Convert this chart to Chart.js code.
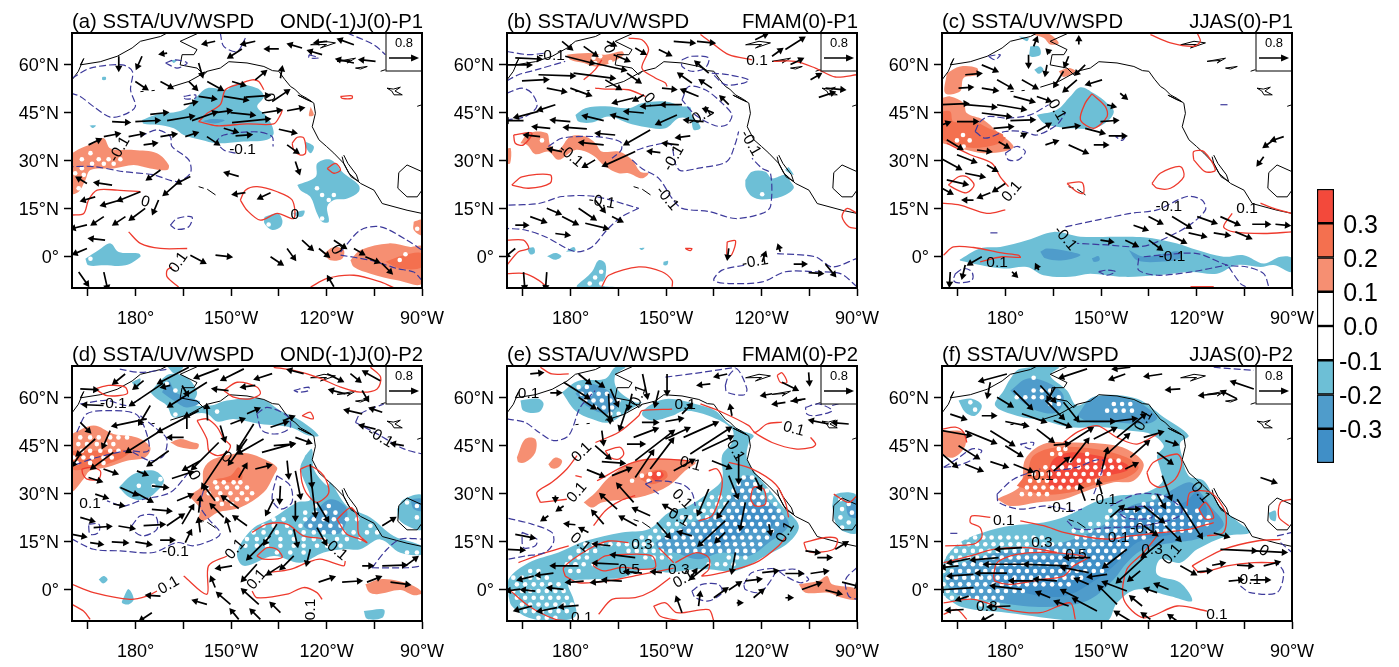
<!DOCTYPE html>
<html>
<head>
<meta charset="utf-8">
<title>SSTA/UV/WSPD</title>
<script src="https://cdn.jsdelivr.net/npm/chart.js@4"></script>
<style>
  html, body { margin: 0; padding: 0; background: #fff; }
  body { width: 1399px; height: 667px; position: relative; overflow: hidden; }
  .box { position: absolute; }
</style>
</head>
<body>
<script>
// axis labels
const xTicks = [165, 180, 195, 210, 225, 240, 255, 270];
const xTickLabels = ['', '180°', '', '150°W', '', '120°W', '', '90°W'];
const yTicks = [0, 15, 30, 45, 60];
const yTickLabels = ['0°', '15°N', '30°N', '45°N', '60°N'];

// colour bar
const barEdges = [-0.4, -0.3, -0.2, -0.1, 0, 0.1, 0.2, 0.3, 0.4];
const barTicks = [-0.3, -0.2, -0.1, 0, 0.1, 0.2, 0.3];
const barTickLabels = ['-0.3', '-0.2', '-0.1', '0.0', '0.1', '0.2', '0.3'];
const barColors = ['#408fc7', '#4f9ccb', '#6dbfd6', '#ffffff', '#ffffff', '#f68f72', '#f4704f', '#f3493b'];

// coast lines, lon (deg E) / lat pairs
const coastLines = [
  [202.5,58,206.6,59,209.3,61,215,60.6,220.3,59.5,223,58.2,225,58,226.8,55.5,228.7,53.2,230,52.4,231.8,50.6,234,49.4,236,48,236.5,44.8,235.5,40.6,237.6,36.5,240,34.4,242.3,32.3,245.4,29.1,247,26,250.7,22.8,254.9,20.7,257.5,16.5,261.2,15.5,265.3,14.4,270,13.4],
  [202.5,58,196.7,54.8,190.9,53],
  [186,52,185,51.9],[182.5,51.7,181.5,51.6],
  [199.8,70,194,67.4,199.3,64.8,198.3,63.2,194.6,63.2,194,60,199.3,59,201.4,56.9,202.5,58],
  [160,55.3,162,58,163.7,62,162.6,60,168.9,61,174.2,62.7,178.9,65.3,181.5,67.4,187.8,68.9,189.9,70],
  [270,26.5,265.3,28.6,262.7,26.2,262.4,21.3,265.3,18.6,268.5,18.6,270,20.7],
  [245.4,31.7,246.7,29.1,249.4,25.5,250.1,23.4,247.7,24.9,245.4,29.1,244.9,31.2],
  [231,50.5,233,49.6,235.4,48.4,233.5,49.2,231,50.5],
  [235,66.3,239.2,67.4,242.8,66.9,238.1,65.3,240,66.4,235,66.3],
  [243.3,61.1,249.1,62.1,246.5,60.6,247.5,61.4,243.3,61.1],
  [249.1,59,252.8,59.5,250.7,58.7,249.1,59],
  [257,58,258.5,58.5],
  [259,52.7,261,52.4,263.2,53,261.5,51.8,263.8,50.6,261.2,50.6,260.5,51.8,259,52.7],
  [268.5,47,270,47.5],
  [199.8,21.8,201.4,21.3],[202.5,21,205.1,19.2]
];

// panel (a)
const aW1 = [
  [160,32.3,162.6,33.8,166.8,35.4,170,37,172.1,33.8,179.4,33.3,186.7,32.3,190.4,28.6,189.9,27,184.6,27.5,179.4,28.6,173.1,27.5,165.8,27,164.2,23.8,162.1,20.2,160,19.7],
  [247.5,-1.3,250.7,1.9,259.6,4,266.4,2.9,270,2.9,270,-8.6,262.2,-7.6,253.8,-5.5,248.6,-3.4],
  [239.1,.8,242.3,2.9,245.4,1.9,244.9,-.8,241.2,-1.3],
  [267.4,10.8,270,11.3,270,6.6,267.4,8.2],
  [235,46.9,236,44.3,234.5,44]
];
const aW2 = [[258.5,-1.8,264.3,.3,270,.8,270,-3.4,263.2,-3.9]];
const aC1 = [
  [182,42.7,186.2,44.3,195.1,45.9,199.3,50.1,202.5,52.7,208.7,52.2,210.8,53.8,218.2,52.7,220.3,50.1,218.2,46.9,221.3,43.8,223.4,38.6,221.3,36.5,212.9,35.9,205.6,35.4,200.4,36.5,195.1,38,192,40.1,186.7,41.2,182.5,41.5],
  [230.8,22.3,236.6,24.9,237.1,29.1,241.3,30.2,245.4,26,250.1,22.3,250.1,20.2,246.5,18.1,242.3,17.6,240.2,15.5,240.7,10.8,238.6,10.8,237,13.4,234.9,18.6,231.8,20.7],
  [233.4,36,236,34.4,235,32.3,233.4,34.4],
  [220.5,12.3,224.7,13.4,226.1,11.3,225.6,9.2,222.9,8.2,220.5,10.2],
  [229.5,13.5,233,14.3,232.5,12.5,230.5,12.5],
  [164.2,-.8,168.4,1.9,172.1,4,174.7,1.3,181,.8,181.5,-.2,176.8,-2.9,170,-2.9,165.2,-2.9],
  [169.5,56.2,170.6,56.2,170.6,55.3,169.5,55.3],[165.5,41,167.5,41,166.5,40.2],[191,61.5,193,61.5,192,60.6]
];
const aC2 = [[201,42.3,204,43,208,42.6,205,41.6]];
const aRed = [
  [199.8,42.2,202.5,44.8,206.6,47.5,208.2,52.2,211.9,53.8,216.6,55.3,218.7,54.8,220.3,52.2],
  [199.8,42.2,205.6,40.9,215,41.5,223.4,41.5,225.5,44.3,226.1,45.9],
  [160,12.9,163.7,13.4,165.2,17.6,167.9,20.7,174.2,20.7,181.5,20.2],
  [177.8,7.6,181.5,4,187.8,2.4,196.2,2.4],
  [193.5,-9.7,189.9,-6.5,189.9,-4.4,191.4,-3.4],
  [235,-9.7,240.2,-7,248.6,-6,257,-8.1,261.7,-10.2]
];
const aRedLoop = [
  [229.2,35.4,230.8,37.3,232.9,37,233.4,32.3,231.8,31.7,229.7,33.3],
  [240.2,27.5,242.8,29.1,244.4,27,242.3,26],
  [244.4,50.1,248,50.3,248,49.5,244.9,49.5],
  [212.9,17.6,214.5,20.7,218.2,21.8,224.5,20.2,229.2,17.6,229.7,11.8,224.5,13.4,219.2,11.3,215,14.4]
];
const aBlue = [
  [160,55.8,165.8,59,175.8,60,179,57.9,178.4,52.2,179.9,46.9,176.2,44.3,172,43.6,166.8,46.9,162.6,50.1,160,51],
  [181.5,37.5,186.7,39.6,190.9,37.5,191.4,34.4,196.7,30.2,197.2,26,193,23.4,185.7,25.5,176.2,26.5,166.8,28.1,160,28.1],
  [211.4,32.3,207.7,33.3,205.6,35.9,207.7,38,218.2,39,222.9,37.5,223.2,34.4],
  [206.6,70,207.7,65.8,211.9,64.2,214.5,68.4],
  [246.5,70,254.9,66.3,258.5,63.2],
  [244.4,1.3,250.7,8.2,257,9.2,265.3,5,270,1.9],
  [244.4,.3,253.8,-1.3,262.2,-3.9,267.4,-5,270,-7.6]
];
const aBlueLoop = [
  [190.9,9.7,193,11.8,197.7,12.3,196.7,9.2,193,8.4],
  [189.4,60.6,192.5,61.6,196.2,60.6,193,59],
  [195.1,50.1,198.8,50.6,198.8,49.6,195.6,49.3],
  [234.5,63.2,237.5,62.2,234.5,62.2]
];
const aDots = [[32.3,165.8],[30.4,168.4,163.1,171.5,175.2],[29,170,166.3,173.1],[27.6,163.1],[26,161],[25.5,163.7],[21.3,162.1,237],[19.2,238.6,242.3],[17.6,240.7],[11.8,238.6],[9.9,221.8],[.6,264.8],[-1.2,263],[8.6,268.5],[-.8,165.8]];
const aWind = [
  [205,67.4,-.27,-.06],[217.6,67.4,-.31,-.07],[213.4,65,-.31,-.2],[225,65,-.3,0],[232.3,65.3,-.31,.09],[240.2,67.4,-.27,-.03],[248.6,66.3,-.36,.13],[238.6,63.2,-.31,.09],[248.6,60.6,-.4,.09],[255.4,61.1,-.36,.04],
  [174.7,62.7,0,-.31],[182,62.7,-.12,-.27],[189.9,63.7,-.13,-.02],[199.8,60.6,.09,-.31],[179.9,54.8,.27,-.18],[187.8,54.8,.27,-.15],[196.7,54.8,.18,-.18],[202.5,54.8,.36,-.2],[210.3,54.8,.29,-.09],[217.6,55.3,.24,.2],[225.5,55.8,.04,.24],
  [199.8,50.1,.4,-.06],[207.7,50.1,.58,-.09],[214.5,49.9,.58,.04],[222.9,48.5,.4,.27],[195.1,47.5,.29,.06],[184.6,44.5,.4,.04],[189.9,42.5,.65,.11],[197.7,42.5,.6,.21],[205.1,45,.36,.05],[209.8,45,.58,-.06],[219.7,44.9,.45,.07],[227.6,45.6,.38,.07],[210.3,41.9,.94,.09],[179.9,42.2,.58,.03],[172.6,42.2,.4,-.02],
  [207.7,40.1,.31,-.09],[225,39.8,.4,-.09],[195.6,37.5,.27,.09],[187.8,37.5,.36,.06],[177.8,37.5,.36,.07],[170,37.5,.36,.07],[165.2,34.9,.27,.13],[182.5,34.9,.29,.04],[211.4,37.7,.36,.03],[202.4,37.5,.27,-.18],[227.6,34.9,.25,-.18],[230.2,29.7,.09,-.27],[212.4,25,-.31,.09],
  [164.7,22.8,-.22,.13],[172.6,22.3,-.4,.06],[187.8,27,-.31,-.22],[197.2,25,-.31,-.16],[193,22.8,-.31,-.27],[214.5,19.9,-.27,-.04],[222.4,19.9,-.27,-.13],[181.5,20.2,-.54,-.22],[175.2,17.6,-.45,-.13],[167.3,18.6,-.31,-.09],[183,15,-.36,-.27],[187.2,17.6,-.13,-.31],[176.8,12.4,-.27,-.18],[170,12.4,-.27,-.18],[164.7,9.8,-.36,-.09],[170.4,5,-.36,.04],[164.7,2.4,-.31,-.13],
  [197.2,.3,.34,-.18],[205.1,.3,.36,-.04],[222.4,-.2,.27,-.18],[227.6,2.4,.18,-.25],[232.3,5,.24,-.22],[237.6,2.4,.22,-.18],[242.3,5,.27,-.18],[248.6,2.4,.22,-.13],[252.2,-.2,.31,-.13],[257.4,-2.3,.22,-.22],[162.1,-5,.22,-.31],[170,-5,.09,-.4],[242.3,-9.6,-.13,.22]
];
const aLabels = [['-0.1',213.6,33.3,0],['0.1',193.5,-2,-55],['-0.1',175,33.5,-60],['0',221.8,49.8,80],['0',230,13,0],['0',183,17,15],['0',243,2,60]];

// panel (b)
const bW1 = [
  [178.8,63.2,185.6,63.7,190.9,63.2,196.1,64.3,196.7,63.2,192.5,60.6,187.8,59.5,184.1,60.6,179.9,61.6],
  [164.2,35.4,166.8,38.6,172.5,38.6,173.6,34.9,176.2,33.3,179.9,37.5,184.6,37.5,187.8,35.4,189.8,32.8,195.1,32.8,199.3,30.2,201.9,26.5,204.5,26,202.4,24.4,198.2,26,195.1,26,190.9,28.1,186.7,31.8,181.5,33.3,176.2,30.2,173,32.8,168.9,32,166.3,34.9],
  [160,33.8,161.2,33.8,161,29.1,160,29.1]
];
const bC1 = [
  [181.5,44.3,184.6,46.4,190.9,47,198.2,46.4,202.4,48,209.8,48.5,215,47,217.6,46.7,218.1,44.3,220.2,41.7,220.8,40.1,218.7,39.6,217.6,42.8,214,43.3,209.8,40.1,202.4,40.7,198.2,41.7,191.9,43.8,186.7,41.9,182.5,42.2],
  [234.9,23.9,237,26.5,241.2,26.5,243.3,24.4,247.5,25.5,249.1,23.4,250.1,21.3,246.4,18.7,240.2,17.8,237,18.7,235.1,21.3],
  [248.5,28,250.1,25.5,247.5,27],
  [182,-9.1,186.7,-4.9,188.8,-1.3,190.9,-2.3,190.9,-6.5,189.8,-9.1,194,-9.6,182,-10],
  [172.6,0,175.2,1,177.1,0,175.2,-1.1],[178.5,1.4,181,2.9,181.5,1.7],[166.3,2.4,168.4,2.7,168.7,1,167.3,.6],[209.2,-1.8,210.6,-1.5,210.3,-2.8,209.2,-2.8],[201.5,2.5,203.2,2.6,202.4,1.9]
];
const bRed = [
  [198.2,68.4,202.4,67.9,204.5,64.8,202.4,59,206.6,55.9,209.8,54.3,210.3,53.2],
  [184.1,55.3,187.7,58.5,189.8,61.6],
  [187.7,52.7,190.9,52.4,198.2,52.2,203.5,50.1],
  [220.8,69.5,224.4,66.9,229.7,63.2,237,61.6],
  [243.8,61.1,250.6,61.1,256.9,59,263.2,56.2,270,56.9],
  [270,13.4,266.9,15,265.3,12.4,267.4,9.2,270,8.7],
  [160,5,165.2,5,166.8,2.4,163.6,1.4,160,-2.8],
  [160,-5.5,165.7,-5.5,170,-7.6,172.5,-9.6],
  [189.8,-9.6,192,-6,201.4,-3.4,208.7,-4.9,211.9,-7.6,211.9,-9.6]
];
const bRedLoop = [
  [162.1,38,167.8,38.6,165.2,34.9,162.6,35.4],
  [161.5,22.3,164.7,24.9,173.6,25.5,173.6,22.9,166.8,21.3],
  [229.2,4.5,231.8,4.8,230.7,.6,229.2,-.2],
  [216,2.4,218.1,2.4,217.6,1.7]
];
const bBlue = [
  [160,64.2,166.8,63.2,172,63.7],
  [160,55,163.6,56.9,169.4,58.5,178.3,61.1],
  [160,51.1,164.7,52.7,167.8,51.1,169.4,47,165.8,43.8,160.5,42.8],
  [160.5,16,170,16.5,177.3,18.7,187.7,18.7,201.4,15],
  [201.4,15,196.1,12.4,191.4,8.2,186.7,2.9,181.5,1.4,172,6.1,165.7,8.2,160,8.7],
  [173,34.4,177.3,37,187.7,37.5,195.6,35.9,195.9,33.3,193,30.7],
  [199.3,30.2,202.4,27.5,207.7,24.4,211.9,18.1,215,15,223.4,14,231.8,11.8,240.2,13.4,242.8,15.5,242.8,26,240.2,27.5,237,30.7],
  [200.8,33.3,205.6,34.7,211.3,35.2,212.9,29.1,214.5,26.8,220.2,27.6,229.1,29.7,231.8,35.4,232.8,39.1],
  [244.9,.8,256.9,-.2,262.2,-3.4,270,-.7],
  [270,-9.6,264.8,-5.5,256.9,-4.9,247.5,-4.9,240.2,-8.1,229.7,-8.6,225,-7.6,227.6,-4.4,234.9,-2.8]
];
const bBlueLoop = [
  [215,61.6,218.1,62.7,223.4,62.2,222.3,59,218.1,58,215,59.5],
  [224.4,57.4,229.7,56.9,236,55.3,234.4,54.3,228.6,53.8],
  [215,49,217.1,53.2,222.3,52.2,227.6,48,230.7,44.3,229.1,41.2,225.5,40.9,219.2,44.3]
];
const bDots = [[36.3,171],[62.2,187.2],[62.7,189.3],[60.6,187.7],[60.9,192.5],[19.4,240.2],[-4.9,189.6],[-6.7,187.7],[-8.6,186,189.6]];
const bWind = [
  [177.3,67.4,.22,-.18],[184.1,65.8,.31,-.22],[191.4,67.4,.18,-.09],[200.3,65.3,.22,-.13],[207.7,64.8,.27,-.13],[212.4,67.4,.49,-.04],[219.7,67.4,.4,-.04],[238,67.9,.27,.13],[247.5,64.8,.45,.29],[243.3,62.7,.22,.16],[249.1,60.1,.27,.13],[255.4,55.3,.22,.13],[258,49.8,.36,.12],[260.1,52.7,.45,-.04],
  [162.6,62.2,.63,-.03],[178.3,62.7,.71,-.18],[187.2,60.6,.8,-.18],[193.5,63.2,.36,-.15],[160,60,.58,0],[164.7,55,.63,.03],[169.9,56.9,.9,-.03],[180.9,57.4,1.03,-.13],[197.7,57.4,.31,-.22],[190.9,55.3,.36,-.22],[172.5,52.7,.45,-.09],[179.9,52.7,.49,-.18],[208.7,52.7,.31,-.03],
  [199.8,49.6,-.49,-.12],[203,50.6,-.22,-.13],[209.8,47.5,-.58,-.04],[215,47.5,-.49,0],[220.2,50.1,-.4,.16],[218.1,54.3,-.31,.22],[224.4,52.7,-.27,.18],[223.4,57.4,-.31,.27],[229.7,47.5,-.18,.18],[225,44.9,-.22,.09],[221.8,42.2,-.45,.04],
  [175.2,47.5,-.4,-.13],[169.9,45.4,-.58,-.15],[165.2,42.5,-.45,0],[190.4,42.5,-.49,.12],[198.2,42.8,-.4,.11],[203,44.9,-.45,.04],[213.4,44.3,-.49,-.22],[179.9,42.2,-.45,.04],[185.1,39.9,-.54,.04],[173.6,40.1,-.4,.04],[170.4,37.5,-.36,.04],[194,38,-.45,.04],[205,39.6,-.63,-.36],[190.4,34.9,-.58,.06],[177.3,32.8,-.31,.06],[187.7,30.2,-.27,-.16],[200.3,32.8,-.8,-.36],[208.2,32.5,-.27,.03],[214,34.9,-.36,.04],[217.6,37.7,-.31,-.04],
  [162.6,9.7,.27,0],[167.3,12.4,.36,-.13],[172.5,15,.31,-.13],[177.3,12.4,.36,-.18],[182.5,15,.4,-.27],[187.7,17.6,.22,-.27],[184.6,10.3,.54,-.13],[175.2,7.1,.31,-.04],[193,12.4,.22,-.11],[162.6,2.4,-.22,-.18],[165.2,-5,.03,-.4],[172.5,-5,-.03,-.4],[229.7,2.4,-.03,-.22],[245.9,1.4,-.04,.12],[240.2,-1.8,.07,.2],[250.1,-2.5,.27,0],[254.8,-5.2,.31,-.02],[260.1,-2.5,.22,-.27]
];
const bLabels = [['-0.1',174,63,0],['0.1',238.6,61.4,0],['-0.1',189.8,17,10],['-0.1',238,-1.8,-10],['-0.1',220.8,43.8,-30],['-0.1',212.4,30.7,-60],['-0.1',210.3,18.1,50],['-0.1',236.5,35.4,60],['0.',205,49,50],['-0.1',180,31.5,40],['0',192,65,70]];

// panel (c)
const cW1 = [
  [160,49.6,162.6,50.1,166.8,48,167.8,44.9,173,42.8,177.3,39.1,182.5,34.4,179.4,32.8,173,32.3,167.8,33.3,162.6,34.9,160,35.9],
  [161.5,57.4,165.7,59.5,171,59,171,56.9,166.8,55.9,165.7,51.7,161,51.1],
  [188.3,69.5,193,70,196.7,66.9,194,66.4,192,68.4],
  [196.7,58,199.8,59,201.9,58,198.2,56.2]
];
const cW2 = [[160,45.4,162.6,45.4,163.6,42.2,169.9,42.2,174.6,40.1,179.9,37.5,178.3,35.4,169.9,33.9,163.6,35.4,160,37]];
const cC1 = [
  [189.8,44.3,196.1,45.9,200.3,50.1,203.5,53,207.7,51.1,211.9,48,214,45.4,211.9,42.2,207.7,40.1,201.4,40.1,195.6,40.7,192,41.7],
  [165.2,-1.3,172,2.4,178.3,2.9,186.7,5,195.1,7.6,203.5,6.1,215,6.1,223.4,5.9,233.9,4,240.2,1.9,248.5,-.2,254.8,.3,261.1,-2.3,266.4,-.2,270,-.7,270,-5,264.3,-2.8,260.1,-3.4,252.7,-2.8,246.4,-5.5,238.1,-5,227.6,-6,217.1,-6.5,206.6,-5.5,200.3,-6.5,191.9,-6,186.7,-3.4,179.4,-3.9,172,-2.8],
  [189,58.5,190.9,59.5,191.9,58.5,190.4,57.2],[187.7,65.8,190.4,65.8,190.9,63.2,187.7,62.7],[184.1,69,187.2,68.4,186.7,67.4]
];
const cC2 = [
  [190.9,1.4,193,2.4,200.3,1.4,203.5,.3,198.2,-1.3,192.5,-.7],
  [207.1,-.7,209.2,0,209.5,-1.3,207.7,-1.8],
  [218.7,1.9,223.4,-.2,229.7,.8,234.4,1.4,234.9,-.7,228.6,-1.8,221.3,-1.3]
];
const cRed = [
  [160.5,.3,163.6,2.9,169.9,2.7,178.8,1,184,.3,184.6,-.4,178.8,-.2,172,-1.8],
  [160,16.6,165.7,16,174.1,13.4,179.9,14.5],
  [161.5,35.4,168.9,31.8,175.7,29.1,178.3,24.9,180.9,21.8],
  [225.5,69.5,231.8,66.9,239.1,65.8,241.2,67.4,240.2,70],
  [251.2,13.4,248.5,9.2,251.7,7.6,261.1,7.1,270,7.6],
  [270,13.4,264.3,15,260.1,16.6],
  [238.1,-9.6,245.4,-9.6]
];
const cRedLoop = [
  [162,22.3,165.2,24.9,167.8,24.9,170.1,22.3,167.8,19.9,164.7,20.8],
  [207.1,50.9,211.3,47,211.9,43.8,207.7,40.1,203.5,42.8,205,48],
  [239.1,30.2,239.1,32.8,242.3,32.8,245.9,27,242.7,26.5],
  [226,22.8,228.6,26,234.9,28.1,236,24.9,231.8,21.3,227.6,21.3],
  [199.3,22.8,204,23.1,204.5,19.7,202.4,20.2]
];
const cBlue = [
  [198.8,9.2,208.7,11.3,219.2,13.4,227.6,14.5,237,18.7,241.7,17.6,242.8,14.5,237,9.2,226.5,4,221.3,2.9,211.9,3.5,202.4,4],
  [223.4,-.2,228.6,.3,240.2,.8,249.6,-2.8,255.9,-3.4,261.1,-5.5,262.7,-9.6],
  [221.8,-.7,221.8,-4.4,227.6,-6,238,-5,249.6,-2.8],
  [250.1,-3.4,253.8,-8.6,255.4,-9.6],
  [170.4,39.1,172,42.2,174.6,43.8,180.4,43.3,187.7,44.3,193.5,47.5],
  [170.4,39.1,173.6,37,179.9,39.1,185.6,39.1,189.8,38,196.1,41.2,198.8,44.9],
  [175.2,7.3,178.3,7.3],[247.5,47.5,250.6,47.5]
];
const cBlueLoop = [
  [164.2,-5.5,166.8,-3.9,169.4,-4.9,169.4,-7.6,165.2,-8.4,163.6,-7.6],
  [209.2,-4.9,211.8,-4.4,214.5,-4.9,211.8,-6],
  [179.9,32.3,183.5,34.4,186.2,32.8,184,30.2,180.9,30.2],
  [174.6,62.7,178.3,63.2,176.7,61.6],
  [214.5,37.5,217.6,37.7,216.6,36.3]
];
const cDots = [[38,166.6,179.9],[36.3,168.7,164.7],[34.4,166.8],[-1.3,164.9]];
const cWind = [
  [188.8,65.8,.07,.18],[203,66.4,0,.14],[187.2,63.2,0,-.27],[194,63.7,-.05,.05],[199.8,62.7,-.09,-.22],[205,60,-.22,-.22],[193,60,-.04,-.22],[172.5,60,.36,-.15],[167.3,56.9,.36,.03],[165.2,52.7,.31,.02],[172.5,52.7,.36,-.06],[177.3,55.3,.36,-.2],[185.1,55.3,.36,-.2],[182.5,50.1,.49,-.13],[189.8,50.1,.31,-.11],[198.2,58,-.22,-.36],[202.4,55.3,-.31,-.27],[210.3,55.3,-.36,-.11],[216,51.1,.13,-.11],
  [160,47.5,.63,.03],[167.3,47.5,.76,-.06],[177.3,47.5,.7,-.12],[172.5,44.9,.71,-.09],[181.5,42.5,.58,.02],[164.7,42.2,.49,0],[176.2,40.1,.45,.04],[160,41.2,.15,.05],[189.8,39.1,.31,.18],[197.7,40.1,.4,.06],[205,40.1,.45,-.12],[209.8,42.2,.4,.03],[211.9,47.5,.16,-.04],[212.4,37.7,.4,0],[192.5,34.9,.27,.09],[199.8,34.9,.45,-.2],[207.7,34.9,.31,0],[184.6,37.5,.1,.05],
  [161.5,36.5,.36,-.22],[171,33.3,.31,-.04],[177.8,35.9,.22,-.13],[164.7,31.8,.45,-.18],[174.1,28.6,.22,-.13],[160,30.5,.45,-.25],[167.3,26,.45,-.09],[161.5,23.9,.49,-.11],[179.9,22.8,-.27,-.18],[175.2,19.9,-.27,-.11],[169.9,17.6,-.22,0],[160,21.3,.22,-.12],
  [267.4,37.5,-.27,-.09],[264.3,36.5,-.22,-.16],[261.1,31.2,-.13,-.18],[220.2,9.7,.31,-.11],[224.9,12.4,.31,-.16],[232.3,12.4,.45,-.27],[240.2,12.4,.45,-.16],[247.5,12.4,.45,-.2],[257.5,10,.4,0],[264.8,10,.31,-.03],[237.5,7.3,.4,-.09],[230.2,7.3,.49,-.24],[245.4,7.3,.36,-.06],[252.2,7.6,.36,-.15],[209.8,5,.27,-.04],[217.6,5,.27,-.13],[225,5,.3,-.22],
  [172.5,-.2,-.31,-.18],[167.3,-2.8,-.07,-.29],[162.6,-5,-.02,-.31],[182,-4.9,.09,-.09],[190.4,-4.4,-.05,.1]
];
const cLabels = [['0.1',177.3,-2.1,0],['-0.1',231.3,15.5,0],['-0.1',232.3,-.2,0],['0.1',182,20.2,-50],['0.1',255.9,15,0],['-0.1',198.7,5.6,50],['0.1',196.1,45.9,60]];

// panel (d)
const dW1 = [
  [160,48.7,166.8,51.3,173,48.7,180.4,47.6,184.6,44.5,183,41.3,177.3,40.3,171,38.2,165.7,37.1,163.6,34.5,160,30.9],
  [196.7,29.3,200.8,32.4,201.4,37.7,204.5,40.8,214,42.7,219.2,41.3,224.4,38.2,223.4,35.6,220.2,30.3,212.9,25.6,205.6,24,202.4,21.9,199.8,21.4,200.3,25.1,198.2,27.7],
  [190.9,46,194,47.1,198.2,46,199.8,45.5,199.3,44,194,44.5],
  [252.2,1.5,256.9,3.1,262.2,2.6,267.4,1,270,-1.1,267.4,-1.9,263.2,-.3,255.9,-1.6,253.3,-.9]
];
const dW2 = [[160,43.4,166.8,43.4,178.3,43.4,175.2,40.8,166.8,38.2,160,37.7],[205,34.5,209.8,35.6,212.4,38.2,213.4,34.5,207.7,33.5]];
const dC1 = [
  [184.6,61.8,187.8,65.4,190.9,67.5,196.1,66.5,199.3,61.8,198.2,58.1,203.5,57.6,208.7,59.2,219.2,59.7,225.5,56,231.8,52.9,237.5,48.2,234.4,48.2,228.6,50.8,219.2,51.8,210.8,53.4,205.6,52.6,202.4,55,198.2,55,191.9,53.9,189.8,57.6,186.7,59.7],
  [189.8,70,195,70,192.5,67.5],[178.8,64.9,181.5,66,180.4,62.8],
  [174.7,31.9,179.4,36.1,185.6,37.2,188.8,34.5,187.8,31.9,183,28.2,178.3,28.7],
  [233.3,41.9,235.4,44,236,37.7,240.2,32.4,241.2,33.5,246.4,26.1,253.8,22.5,261.1,16.7,270,13.5,270,10.9,263.2,11.4,256.9,15.6,250.6,12.5,245.4,12.5,239.1,11.5,231.8,8.3,223.4,10.4,214,7.3,211.9,11.4,216.6,18.8,223.4,22.5,230.7,27.2,234.9,28.2,231.8,37.7],
  [262.2,25.1,264.3,28.2,270,29.3,270,18.8,265.3,19.9,262.7,21.9],
  [168.4,3,169.9,4.1,171.2,3,169.8,1.8],[176.2,-2.7,177.8,0,179.4,-3.2,177.8,-4.8,175.7,-4.3],[251.7,-6.9,258,-6.4,257.5,-9,252.7,-9.3]
];
const dC2 = [
  [188.3,61.8,190.4,65.4,192.5,61.8,196.7,60.2,200.3,58.6,196.1,57,191.9,59.2],
  [236,24,241.2,28.2,246.4,25.1,244.4,17.8,238,17.8,232.8,19.9],
  [266.4,28.2,270,28.2,270,24.6,267.4,25.1]
];
const dRed = [
  [223.4,69.6,229.7,68.6,237,66.5,244.4,63.4,250.6,61.8,255.9,62.8,257,66.5,253.8,69.6],
  [243.3,21.9,247.5,25.6,249.6,23,250.1,17.2,252.7,14.6,250.6,15.7,246.4,17.2,243.3,21.9],
  [216.6,17.8,221.3,20.4,227.6,20.4,232.8,16.7,239.1,15.7,240.2,14.1],
  [221.8,5.2,228.6,6.2,233.9,8.3,238,9.4,245.4,7.3,245.9,8.8],
  [195.1,4.1,202.4,-1.6,202.9,7.3,208.7,10.4],
  [216.6,-.6,218.1,-2.7,227.6,-1.6,232.8,.5,237,-1.1,238.6,-3.2],
  [160,1.5,166.8,-1.1,178.3,-3.2,183.5,-2.2,186.7,-.6],
  [160,-4.8,163.6,-6.9,165.7,-9.5]
];
const dRedLoop = [
  [167.3,62.8,171.5,63.9,176.7,63.4,177.3,61.3,171,60.7],
  [207.7,62.3,211.9,64.9,218.1,63.4,219.2,61.3,216,59.7,210.8,60.2],
  [232.3,54.4,234.9,55.5,235.8,53.4],
  [199.3,52.9,202.4,53.4,205.6,50.8,207.7,47.1,209.8,45,208.7,42.9,205.6,41.9,203,43.4,202.4,47.1],
  [163.1,37.7,165.7,38.2,168.9,37.1,168.4,34.5,164.7,34.5,163.4,36.1],
  [231.8,37.7,234.9,38.7,239.1,35.6,240.7,30.3,237,27.2,233.9,29.8,232.3,33.5],
  [218.1,10.4,221.3,13,224.4,12.5,226,9.9,220.2,9.4]
];
const dBlue = [
  [161.5,49.2,164.7,55,171.5,56,179.9,55,183,50.2,184,43.4,177.3,43.4,167.8,41.3,161.5,39.2],
  [181.5,54.4,186.7,50.2,189.8,47.1,188.8,41.9,184.6,40.3,178.3,43.4],
  [162.6,58.1,171,59.2,177.3,57.6,181.5,59.7],
  [196.7,36.6,190.9,30.3,182.5,28.2,176.2,26.1,171,27.7],
  [160,15.7,166.8,12.5,175.2,12,185.6,11.5,193,14.6,198.2,13.6,205.6,16.2,206.6,17.8,203,21.9,200.3,26.1,201.4,31.3],
  [249.1,52.3,250.6,55,258,58.1],
  [249.1,52.3,255.9,48.7,264.3,44,270,42.4],
  [254.3,6.7,259,12.5,263.2,15.7,270,15.7],
  [254.3,6.7,265.3,6.7,270,7.3],
  [175,69,181.5,68,190,69]
];
const dBlueLoop = [
  [178.8,19.9,181.5,23,186.2,23,186.7,18.8,182.5,16.7,179.9,17.8],
  [165.2,20.4,168.4,20.4,168.4,17.8,165.7,17.2],
  [224.4,35.6,228.6,32.4,229.1,27.2,225.5,25.1,222.9,28.2],
  [218.1,55,221.3,57,227.6,54.4,228.6,50.8,224.4,48.7,219.7,49.8],
  [229.7,62.3,234.4,63.4,234.4,62.3,231.3,61.8]
];
const dDots = [
  [47.6,162.6,165.7,168.4,172,174.6,177.3],[45.5,162,164.7,167.8,170.5,173],[43.4,163.1,165.7,168.9,172,174.6],[41.3,160.5,163.6,166.3,169.9,172.5],[39.6,161.5,165.7,169.9],
  [33.5,205,207.7,210.8,212.9],[31.9,202.4,205.6,208.7,211.9,215],[30.1,203,206.6,209.8,213.4,216.6],[28.2,205.6,208.7,211.9,215],[26.7,207.1,210.3],
  [26.1,236.5,240.7],[24,233.3,236.5,239.6,242.8],[21.9,223.4,226.5,233.3,236,239.1,242.3,246.4,249.6],[19.9,220.2,223.4,227.6,231.8,234.9,238,241.2,244.4,253.8],[17.8,217.1,220.2,224.4,228.6,232.8,236,239.1,242.3,245.4,248.5,252.7,255.9],[15.7,215,218.1,221.3,225.5,229.7,232.8,236,239.1,243.3,246.4,250.6],[13.6,214.5,218.1,221.3,225.5,229.7,232.8,237,240.2,244.4],[11.5,224.4,228.6,232.8,265.3,268.4],
  [32.4,181,185.6],[34.5,187.8],[62.3,192.5],[64.4,189.8],[54.8,192.5],[55.7,205.6],[27.2,265.3],[26.1,268.4],[22.5,268.4]
];
const dWind = [
  [162.6,62.8,.4,-.02],[176.7,67.5,-.27,-.22],[188.3,64.4,-.8,-.54],[182.5,65.4,-.22,-.18],[169.9,57.6,-.49,.02],[196.7,69.6,-.76,-.4],[202.4,64.9,-.98,-.62],[190.9,63.9,-.18,-.04],[194.6,63.9,.13,-.22],[206.1,69.1,-.58,-.22],[214,69.1,-.54,-.27],[222.9,67.6,-.4,-.13],[217.6,63.9,-.31,-.04],[209.2,62.3,-.36,.04],[232.8,67.6,-.36,.09],[240.2,67.6,.36,-.18],[247.5,67.6,.22,-.18],[256.9,65.4,-.4,.22],[245.9,61.3,-.36,.09],[251.2,62.3,.13,-.22],
  [215,55,.27,.12],[209.8,51.8,.31,.12],[226.5,52.9,.22,.09],[222.4,50.8,.4,.13],[202.6,52.9,-.02,.36],[196.1,50.2,0,.36],[199.8,56,-1.03,-.54],[187.8,49.7,-.85,-.54],[183.5,53.4,-.85,-.18],[184.6,57.6,-.27,-.45],[172,49.7,-.18,-.4],[167.3,47.1,-.45,-.4],[173,42.9,-.54,-.4],[162.6,52.3,.22,-.22],[195.1,47.6,-.36,0],[190.4,43.4,-.51,-.36],[162.6,42.4,-.18,-.27],[180.4,37.1,.22,-.09],[169.9,37.7,.31,-.11],[165.2,35,.29,-.09],
  [206.6,51.3,.11,-.36],[215,47.1,-.45,-.63],[217.1,51.8,-.4,-.63],[220.2,47.1,-.63,-.36],[206.1,46,-.67,-.67],[200.3,40.3,-.4,-.22],[208.7,43.4,-.63,-.94],[219.7,42.9,.8,.22],[223.4,45,.49,.04],[230.2,47.6,.36,-.13],[217.6,37.7,.36,.09],[212.4,35,.18,.31],[227.6,40.3,.04,-.4],[230.2,37.1,.13,-.67],[234.9,39.2,.04,-.54],[225.5,32.4,-.02,-.4],[223.4,28.2,-.18,-.36],[230.2,27.7,0,-.45],[235.4,32.4,.09,-.76],[237,27.2,.27,-.45],
  [224.4,20.4,-.31,-.49],[222.4,16.7,-.58,-.58],[229.7,18.8,.09,-.4],[237,19.3,.22,-.4],[234.9,12.5,-.09,-.36],[229.7,10.4,-.31,-.31],[225.5,7.3,-.31,-.2],[218.1,7.8,-.36,-.4],[210.3,7.3,-.36,-.06],[251.2,7.3,.22,0],[257.5,7.3,.58,.02],[264.8,7.3,.27,.2],[257.5,19.9,.29,.18],[237.5,2.2,.36,.12],[244.9,2.2,.45,.03],[252.7,2.2,.31,.12],[260.1,2.2,.45,-.06],
  [187.8,-2.2,-.31,.02],[205,.5,-.09,.22],[209.8,-4.8,-.31,.27],[202.4,-4.8,-.31,.09],[218.7,-4.8,-.4,.36],[225.5,-7.4,-.22,.22],[212.4,-9.5,-.18,.22],[219.2,-9.5,-.22,.22],[185.1,-7.4,-.27,-.18],
  [185.1,25,.45,-.04],[182.5,19.9,.49,.03],[189.8,19.9,.4,.27],[193,27.7,.36,.15],[191.4,34.7,.49,.16],[199.8,24,.04,.36],[194.6,20.4,.27,.45],[200.3,17.8,-.04,.31],[195.6,14.6,.13,.27],[209.8,17.8,-.09,.31],[215,19.9,-.31,.22],[207.7,22.5,-.31,.31],[212.4,25.3,-.4,.29],[205,27.7,-.27,.36],
  [173,26.7,.22,-.04],[167.3,29.8,.27,-.09],[175.2,31.9,.4,-.18],[179.9,30.3,.4,-.22],[185.1,32.4,.36,-.04],[162.6,22.5,.31,-.09],[166.8,19.3,.4,.03],[174.6,19.8,.36,-.06],[160,17.2,.31,-.06],[165.7,14.6,.27,-.04],[172.5,14.8,.36,-.02],[179.9,14.8,.36,-.06],[187.7,15.4,.31,0],[251.2,55,-.4,.09],[257.5,55.5,-.27,.09],[255.4,50.2,-.36,.09],[264.3,45,-.27,.05]
];
const dLabels = [['-0.1',192.5,11.7,0],['0.1',165.7,26.7,0],['0.1',190.4,1.2,-30],['0.1',211.3,12.5,-50],['0.1',218.1,3,-50],['0.1',234.9,-6.4,-90],['0.1',243.3,12,40],['-0.1',256.9,47.6,30],['-0.1',173,58.1,0],['0',198.4,35.6,60],['0',208.5,41.3,40]];

// panel (e)
const eW1 = [
  [184.1,27.2,187.8,30.3,192,35,200.3,40.3,208.7,40.8,219.2,39.8,216,37.1,210.8,32.4,203.5,29.3,197.2,28.2,189.8,27.2,186.7,25.6],
  [163.1,41.3,165.7,47.1,168.9,47.1,168.9,42.9,165.7,39.8,163.6,39.8],
  [173,39.2,175.2,41.3,177.3,40.3,176.2,38.2,174.1,37.9],
  [251.7,1.5,258,2.6,260.6,4.1,262.2,1.5,270,0,270,-3.2,265.3,-2.7,261.1,-1.1,253.8,-1.1]
];
const eW2 = [[201.9,34.5,205.6,37.1,209.8,37.1,210.3,35,205.6,32.9]];
const eW3 = [[204.5,36.1,208.2,37.1,209.2,35.6,206.6,34]];
const eC1 = [
  [160.5,-2.2,160.5,3.1,166.8,8.3,176.2,11.5,184.6,15.1,196.1,17.8,204.5,18.8,210.8,24,217.1,26.1,223.4,30.3,227.6,34.5,227.6,41.9,230.7,46,230.7,50.2,223.4,54.4,216,56,211.9,54.4,205.6,52.9,202.4,55,205.6,58.1,210.8,59.7,219.2,58.1,225.5,56,229.7,51.8,233.9,49.7,237.5,48.2,236,46,235.4,40.8,238,36.6,242.3,31.4,246.4,26.1,251.7,19.9,248.5,14.6,241.2,10.4,231.8,5.7,223.4,6.2,219.2,6.2,210.8,5.2,203.5,6.2,196.1,3.6,186.7,3.1,179.4,2,180.9,-3.2,181.5,-8.5,175.2,-10,166.8,-9,161.5,-5.3],
  [177.3,61.8,182.5,65.4,190.9,66,194,69.6,197.2,69.6,194,67,194.6,62.8,200.3,58.6,202.4,58.6,198.2,56,191.9,52.3,186.7,53.4,181.5,56],
  [164.2,59.2,169.9,59.7,171.5,58.1,169.9,55.5,165.2,56],
  [262.2,26.1,263.2,29.8,270,29.3,270,17.8,265.3,18.3,263.2,20.9]
];
const eC2 = [
  [206.6,14.6,211.9,17.8,218.1,20.9,227.6,25.1,232.8,33.5,236,35.6,240.2,29.3,246.4,24,248.5,19.9,242.3,14.6,236,10.4,227.6,11.5,220.2,9.4,212.9,11.4,207.7,12.5],
  [181.5,61.3,185.6,64.4,190.9,62.8,195.1,58.6,191.9,55,185.6,57.1],
  [266.4,27.2,270,28.2,270,22.5,267.4,23]
];
const eC3 = [[221.3,16.7,227.6,20.9,233.9,26.1,238,27.2,244.4,24,243.3,19.9,234.9,17.8,228.6,14.1,223.4,14.1]];
const eRed = [
  [170.5,69.6,174.1,67.5,179.4,67.5],
  [220.8,58.1,227.6,55.5,236,51.3,238,49.2,241.7,51.8,246.4,52.4],
  [237.5,49.2,243.3,46,250.6,44,255.9,44.5,257,45.5,255.4,47.6],
  [187.8,46,195.1,49.2,201.4,54.4,202.4,56,211.9,56.5],
  [170.5,27.2,169.4,30.3,174.1,33.5,178.8,37.7,182,41.9],
  [170.5,27.2,178.8,28.2],
  [188.3,34,198.2,39.2,205.6,40.8,217.1,40.3],
  [223.4,37.1,226,37.7,227.6,34.5,227,29.3,224.4,23,220.2,21.4],
  [229.7,39.8,237,37.7,244.4,32.9,247.5,27.2,248.5,22.5],
  [187.2,19.9,190.9,24.6,195.6,27.7,200.3,29.3],
  [262.7,29.8,267.4,27.2,270,29.3],
  [178.3,4.1,177.8,6.8,185.6,12.5,191.9,15.1,198.2,14.6],
  [178.3,4.1,182.5,2,191.9,2.6,202.4,4.6,212.4,6.6],
  [207.7,13,212.4,8.3],
  [163.6,8.3,170.5,10.9,179.4,13.6],
  [160.5,0,166.8,-5.3,175.2,-9.5,180.4,-10],
  [212.9,8.3,219.2,11.4,223.4,9.9,223.4,6.2,221.3,4.1,231.8,6.2,239.1,8.8,245.4,13.6,247.5,16.2],
  [188.8,-7.9,193,-3.2,200.3,-2.7,205.6,-.6,211.3,3.6],
  [206.1,-5.3,209.8,-4.3,213.4,-7.4,223.4,-6.4,225,-10],
  [206.1,-5.3,208.2,-8.5,215,-10],
  [181.5,35.6,183.5,35.1]
];
const eRedLoop = [
  [244.9,67,246.4,67.9,248,64.9,245.9,64.9],
  [190.9,43.4,195.6,44.5,196.7,42.4,195.1,40.8,192.5,41.3],
  [236.5,28.2,237.5,31.9,240.7,31.4,241.2,26.7,238,26.1],
  [253.3,14.6,260.1,16.2,263.8,15.7,262.7,12.5,256.9,11.5,254.3,12],
  [187.7,8.3,190.9,10.4,197.2,10.9,205.6,10.4,206.6,6.8,202.4,6.2,196.1,6.8,190.4,5.7,187.2,7.3]
];
const eBlue = [
  [209.8,66.5,221.3,68,231.8,69.6],
  [262.2,57.6,270,59.7],
  [160,53.4,165.7,52.3,170,49.2,174.6,46.6,179.4,48.2,183,57,187.7,62.3],
  [160.5,22.2,167.8,20.4,174.1,17.8,174.6,14.6,172,11.5,165.7,10.4,160.5,9.4],
  [203.5,33,206.6,34,215,32.9,218.1,30.3,219.2,26.1],
  [203.5,33,207.7,29.8],
  [270,6.8,266.4,3,267.4,-2.2,270,-3.2]
];
const eBlueLoop = [
  [228.6,63.9,229.7,67,232.3,69.1,235.4,62.8,234.4,60.9,229.1,61.8],
  [253.8,57,258,58.1,262.2,56,256.9,54.4,254.3,54.9],
  [164.7,17.8,169.4,15.7,168.9,13.6,165.2,13],
  [218.1,-.6,221.3,1.5,226.5,1.5,227.6,-1.1,223.4,-3.7,219.2,-2.7],
  [234.4,1.5,237,5.2,244.4,6.2,241.7,1,239.1,-1.1,234.9,-.1],
  [245.4,5.7,250.6,6.2,254.8,3.1,252.2,2,247.5,4.1]
];
const eDots = [
  [5.7,167.3,169.9,179.9,182.5],[3.6,162,164.7,167.3,169.9,172.5],[1.5,163.1,165.7,168.4,171,173.6,176.2],[-.6,162,164.7,167.3,169.9,172.5,175.2,177.8],[-2.7,163.1,165.7,168.4,171,173.6,176.2,178.8],[-4.8,164.7,167.3,169.9,172.5,175.2,177.8,180.4],[-6.9,165.7,168.4,171,173.6,176.2,178.8],[-9,169.9,172.5,175.2],
  [14.1,184.6,187.2,189.8,192.5,195.1,197.7,200.3,203,205.5,208.2,210.8,213.4,216,218.6,221.3,223.9,226.5,229.1,231.7,234.4,237,239.6],
  [12,182.5,185.1,187.7,198.2,200.8,203.5,206.1,208.7,211.3,214,216.6,219.2,221.8,224.4,227,229.7,232.3,234.9,237.5],
  [9.9,179.9,182.5,185.1,203.5,206.1,208.7,211.3,229.7,232.3,234.9],
  [7.8,178.8,181.5,184.1,187.2,223.4,226,228.6,231.2],
  [35,234.4,237],[33,232.8,235.4,238],[30.9,231.2,233.9,236.5,239.1,241.7],[28.8,224.4,227,229.7,232.3,234.9,237.5,240.2,242.8],[26.7,220.8,223.4,226,228.6,231.2,233.9,236.5,239.1,241.7,244.3],[24.6,219.2,221.8,224.4,227,229.7,232.3,234.9,237.5,240.2,242.8,245.4],
  [22.5,215,217.6,220.2,222.9,225.5,228.1,230.7,233.3,236,238.6,241.2,243.8,246.4],[20.4,210.8,213.4,216,218.6,221.3,223.9,226.5,229.1,231.7,234.4,237,239.6,242.2,244.9],[18.3,206.6,209.2,211.9,214.5,217.1,219.7,222.3,225,227.6,230.2,232.8,235.4,238,240.7,243.3],[16.2,202.4,205,207.7,210.3,212.9,215.5,218.1,220.8,223.4,226,228.6,231.2,233.9,236.5,239.1,241.7],
  [63.4,182.5,185.1],[61.3,183.5,186.2,188.8,191.4],[59.2,184.6,187.2,189.8,192.5,195.1],[57,187.7,190.4,193],[55,192.5,195.1],
  [34,199.3,204.5],[35.6,202.4],[36.1,205,207.7],
  [28.2,264.8],[26.7,267.4],[25.1,265.3],[24,268.4],[22.5,264.8],[20.9,267.4],[19.3,265.3]
];
const eWind = [
  [167.3,67.5,.27,.03],[182.5,67.5,.27,-.22],[177.8,64.9,.63,-.4],[187.7,65.4,.18,-.13],[192.5,62.8,.18,-.4],[182.5,60.2,.4,-.27],[173.6,61.6,.22,0],[202.6,67.5,.12,-.58],[210.3,67.5,0,-.49],[199.3,61.3,-.09,-.36],[207.7,62.3,-.09,-.36],[191.9,61.3,.04,-.71],[197.7,57,-.18,-.54],[188.3,57,.36,-.31],
  [229.2,67.5,-.27,-.06],[223.9,64.4,-.27,-.03],[254.8,68,.02,-.27],[246.4,64.9,.36,-.18],[243.3,61.3,-.22,-.04],[247.5,58.6,-.27,-.04],[253.8,59.7,-.27,-.04],[261.1,51.8,-.45,.09],[267.4,51.8,-.36,.03],[230.7,54.4,-.04,.22],[215,55,.22,.22],[202.4,52.3,.36,0],[209.8,52.6,.4,.07],
  [199.8,47.6,.58,.22],[209.8,47.1,.58,.27],[215.5,47.6,.85,.38],[197.7,45.5,.4,0],[200.3,40.3,.98,.76],[205,37.7,.58,.76],[200.3,35,.45,.67],[217.6,42.4,1.03,.67],[221.3,43.4,.76,.36],[187.7,45,.36,-.31],[189.8,49.7,.04,-.31],[189.8,40,.54,-.04],[193,35.6,.45,.18],[185.1,37.5,.4,-.16],[212.4,37.1,.49,.27],[224.4,40.3,.45,-.18],
  [232.8,42.4,0,-.71],[229.7,35.6,.22,-.54],[238,35,.13,-.27],[223.4,31.4,-.27,-.63],[229.7,27.7,-.27,-.4],[234.9,27.2,-.13,-.67],[242.3,20.4,.04,-.22],[228.6,21.4,-.67,-.62],[228.6,17.8,-.22,-.22],[231.8,11.5,-.09,-.49],[223.4,7.8,-.45,-.36],[218.1,16.7,-.31,.09],[207.1,20.9,.31,-.36],[200.8,19.9,-.4,.22],[205,23,-.4,.18],[213.4,24,-.31,.18],[194.6,25.1,-.4,.36],[199.8,27.2,-.4,.45],[190.4,20.4,-.27,.31],
  [181.5,20.2,-.22,.02],[185.6,17.8,-.18,.09],[175.2,29.4,0,-.1],[177.8,26.1,-.13,-.09],[173,23,-.13,-.09],[162.6,17.2,.45,-.09],[160,12.5,.4,-.02],[192.5,13.6,-.4,.04],[200.3,9.9,-.58,.07],[182.5,7.3,-.67,0],[195.1,7.8,-.62,.03],[202.4,5,-.4,.04],[208.7,5.2,-.22,.02],[196.1,2.5,-.45,.03],[190.9,2.5,-.31,-.03],[184.1,2.5,-.4,-.03],[174.6,5,-.4,-.05],[168.4,4.1,-.36,-.09],[177.8,-.1,-.36,.04],[168.9,-.6,-.31,.03],[164.2,0,-.31,-.04],[182.5,-5.1,-.45,-.04],[175.7,-5.8,-.45,-.09],[167.8,-5.3,-.4,-.11],
  [220.2,-5.3,.04,.31],[225,-2.7,.31,.22],[229.7,-.3,.27,.18],[237.5,-2.7,.22,.18],[234.9,2.6,.36,.04],[240.2,5.2,.36,.04],[247.5,4.9,.4,0],[255.4,4.9,.4,.06],[252.7,-.1,.45,.16],[260.1,-.3,.36,-.09],[265.3,2.2,.4,-.1],[215,-7.4,-.13,.36],[218.1,4.1,.09,.13],[247.5,-2.7,.12,0],[232.2,-4.3,.08,0],[253.8,12,.31,-.04],[257.5,9.9,.31,0],[263.2,12.5,.27,.16]
];
const eLabels = [['0.1',166.8,61.3,0],['0.1',216,57.8,0],['0.1',250.1,50.2,15],['0.1',201.4,60.7,-70],['0.1',183.5,42.9,-45],['0.1',182,30.3,-50],['0.1',231.8,43.4,60],['0.1',217.6,39.2,15],['0.1',215,28.2,45],['0.1',214,22.5,30],['0.1',247.5,17.8,-60],['0.3',202.4,13.8,0],['0.5',198.4,6,0],['0.3',214,6,0],['0.1',215.5,3.1,-30],['0.1',183.5,-9,0],['0.1',183,14.6,40]];

// panel (f)
const fW1 = [
  [177.3,28.2,184.6,32.4,186.2,40.8,191.9,45.5,200.3,46,215,45,221.3,41.9,223.4,38.7,220.2,34,214,33.5,205.6,30.9,198.2,28.2,189.8,27.2,181.5,26.1],
  [160,49.7,166.8,49.2,167.3,45,163.6,41.3,160,42.9]
];
const fW2 = [[183.5,32.4,186.7,36.6,188.8,41.9,196.1,44.5,208.7,43.9,218.1,41.3,221.8,38.2,218.1,35,208.7,33,200.3,30.3,190.9,29.8]];
const fW3 = [[193,35.6,195.1,40.8,200.3,42.9,208.7,41.9,218.1,39.2,218.1,37.1,208.7,35,200.3,31.9,194,32.4]];
const fC1 = [
  [160.5,-2.2,160.5,8.3,165.7,14.6,173,17.8,181.5,19.9,191.9,20.9,199.3,23,207.7,27.2,215,29.3,223.4,30.1,229.2,33.5,228.6,37.7,227.6,41.9,229.7,45,225.5,48.7,219.2,49.7,210.8,50.8,200.3,50.8,191.9,52.9,183.5,54.4,176.7,57.6,179.4,62.3,181.5,66,184.6,69.1,196.7,69.6,194,67,199.3,62.3,202.4,57.6,208.7,60.7,221.3,59.7,229.7,53.9,237.5,48.2,234.9,46,235.4,41.9,237.5,35.6,242.3,34,246.4,27.2,253.3,20.9,256.9,17.8,249.6,16.7,240.2,12.5,234.9,8.3,228.6,9.4,227.6,4.6,234.9,2,238.6,-3.7,231.8,-2.2,221.3,-.1,215,-4.3,211.9,-10,201.4,-10,180.4,-7.4,166.8,-5.8],
  [165.2,59.2,169.4,59.7,172.5,57.6,170.4,54.4,167.3,55.5],
  [262.7,24,264.8,24.6,264.8,21.4,263.2,21.9]
];
const fC2 = [
  [160.5,4.1,166.8,8.3,177.3,11.5,185.6,12.5,196.1,14.1,206.6,17.8,211.9,20.9,219.2,26.1,227.6,28.2,232.8,31.4,238,33.5,241.2,30.3,244.4,26.1,248.5,19.9,240.2,15.7,232.8,14.6,223.4,12.5,218.1,8.3,214,3.1,206.6,-3.2,198.2,-5.3,185.6,-5.3,173,-3.2,163.6,-1.1],
  [181.5,62.3,186.7,66,193,64.9,198.2,60.7,196.1,55.5,189.8,56,184.6,59.2],
  [202.4,54.4,207.7,60.2,220.2,59.2,227.6,53.9,224.4,51.8,215,52.3,206.6,52.3]
];
const fC3 = [[176.2,6.2,185.6,9.4,196.1,10.4,205.6,12.5,212.9,15.7,221.3,25.1,229.7,26.7,236,27.2,240.2,30.3,243.3,24,239.1,18.8,229.7,16.7,221.3,14.6,215,8.3,208.7,3.1,198.2,-2.2,185.6,-1.1,177.3,2]];
const fRed = [
  [160,50.2,164.2,50.8,166.8,49.2,167.8,46],
  [161,13.6,169.9,14.1,172.5,16.2,172,19.3,168.9,20.9,169.4,23,175.2,22.5],
  [184.6,21.4,191.9,19.9,198.2,17.8,206.6,16.2,212.9,15.7,219.2,16.7,229.7,17.8,238,18.8,245.4,20.9],
  [160.5,8.3,168.9,10.4,176.2,12.5,186.7,13,196.1,11.5],
  [160.5,-4.3,169.9,-3.2,180.4,-6.4,190.9,-7.4,200.3,-4.3,201.9,-9.5],
  [227.6,16.7,223.4,11.5,218.1,6.2,217.1,-3.2,223.4,-9,233.9,-5.3,243.3,-6.9],
  [160.5,-7.9,164.7,-6.4,167.8,-9.5],
  [198.2,46,202.4,49.2,208.7,51.3,215,47.6,221.3,45.5,228.6,49.2],
  [237,26.1,238,30.3,244.4,30.3,249.1,24,248.5,17.8,243.3,16.7],
  [238.6,7.3,241.2,8.8,248.5,12.5,259,15.1,266.4,15.6],
  [238.6,7.3,241.2,5.2,249.6,7.3,258,8.3,265.3,8.3],
  [270,28.2,266.4,27.2,265.9,22.5,269,19.9]
];
const fRedLoop = [
  [176.2,4.1,177.3,8.3,183.5,10.9,193,11.5,205.6,9.9,201.4,7.3,198.2,4.1,191.9,3.1,181.5,1.5,176.7,2.5],
  [224.4,36.6,226.5,39.8,233.9,42.4,235.4,39.8,233.3,34.5,228.6,31.9,225.5,33.5],
  [240.7,25.1,242.8,27.2,245.4,22.5,242.8,22]
];
const fBlue = [
  [177.3,29.8,182.5,34.5,190.9,37.7],
  [195.1,37.1,202.4,38.2,207.7,40.3,210.8,40.3,209.8,35.6,207.7,29.8],
  [177.3,29.8,177.8,27.2,184.6,25.1,193,26.1,201.4,24.6,204,25.1],
  [199.3,21.4,202.4,18.8,212.9,19.3,223.4,19.9,233.9,22.5,235.4,25.1,229.7,29.3,221.3,29.8,212.9,26.1],
  [162.6,17.5,165.2,17.5],
  [253.8,1,256.9,-1.1,265.3,-1.1,267.4,5.2,265.3,8.3],
  [265.3,16.7,270,17.8],[266.4,14.6,270,11.5],[245.4,69.6,258,68.6]
];
const fBlueLoop = [
  [215.5,24,219.2,25.6,225.5,25.6,226,22.5,218.1,22.2],
  [160.5,38.2,164.7,40.8,169.4,44,172.5,43.4,169.9,40.8,164.7,38.7],
  [184.6,45.5,188.8,46,187.7,44]
];
const fDots = [
  [44,196.7,198.8],[42.4,194.6,197.2,205.6],[40.3,200.3,203,205.6,208.2,212.9,215.5],[38.2,192.5,195.1,197.7,200.3,203,205.6,208.2,210.8,213.4,216],[36.1,188.8,191.4,194,196.7,199.3,201.9,204.5,207.1,209.8,212.4],[34,187.7,190.4,193,195.6,198.2,200.8,203.5,206.1,208.7],[31.9,186.7,189.3,191.9,194.6,197.2,199.8,202.4],[29.8,185.1,187.7,190.4,193],
  [66.3,188.8],[62.3,188.8,191.4,194],[60.2,183.5,186.2,188.8,191.4,194,196.7],[58.1,194,196.7,214,216.6,219.2],[56,211.9,214.5,217.1,219.7],[58.6,168.9],[56.3,170.4],
  [28.8,226.5,229.1],[26.7,223.4,226,228.6,231.2,233.9],[24.6,212.9,218.1,220.8,223.4,226,228.6,231.2,233.9,236.5,240.2],[22.5,211.9,214.5,217.1,219.7,222.3,225,227.6,230.2,232.8,235.4,238,241.2,243.8],[20.4,206.6,209.2,211.9,214.5,217.1,219.7,222.3,225,227.6,230.2,232.8,235.4,238,240.7,243.3],[18.3,201.4,204,206.6,209.2,211.9,214.5,217.1,219.7,222.3,225,227.6,230.2,232.8,235.4,238],
  [16.2,167.8,170.4,173,175.6,178.3,180.9,183.5,186.1,188.8,191.4,202.4,205,207.7,210.3,212.9,215.5,218.1,220.8,223.4],
  [14.1,163.1,165.7,168.4,171,173.6,176.2,178.8,181.5,184.1,186.7,189.3,191.9,194.6,197.2,199.8,202.4,205,207.7,210.3,212.9,215.5,218.1],
  [12,161.8,164.4,167,169.7,172.3,174.9,177.5,180.1,182.8,185.4,188,190.6,193.2,195.9,198.5,201.1,203.7,206.3,209,211.6,214.2,216.8],
  [9.9,160.5,163.1,165.7,168.4,171,173.6,176.2,178.8,181.5,184.1,186.7,189.3,191.9,194.6,197.2,199.8,202.4,205,207.7,210.3,212.9,215.5],
  [7.8,161.8,164.4,167,169.7,172.3,174.9,177.5,180.1,182.8,185.4,188,190.6,193.2,195.9,198.5,201.1,203.7,206.3,209,211.6],
  [5.7,160.5,163.1,165.7,168.4,171,173.6,176.2,178.8,181.5,184.1,186.7,189.3,191.9,194.6,197.2,199.8,202.4,205,207.7,210.3],
  [3.6,161.8,164.4,167,169.7,172.3,174.9,177.5,180.1,182.8,185.4,188,190.6,193.2,195.9,198.5,201.1,203.7],
  [1.5,160.5,163.1,165.7,168.4,171,173.6,176.2,178.8,181.5,184.1,186.7,189.3,191.9,194.6,197.2,199.8],
  [-.6,161.8,164.4,167,169.7,172.3,174.9,177.5,180.1,182.8,185.4],
  [-2.7,160.5,163.1,165.7,168.4,171,173.6,176.2,178.8],
  [-4.8,172.3,174.9,177.5]
];
const fWind = [
  [180.4,67.5,-.67,-.18],[175.2,64.9,-.07,-.34],[205.6,69.1,-.67,-.22],[217.6,67.5,-.36,-.13],[229.2,67.5,-.4,-.06],[219.2,69.6,-.4,-.04],[234.9,62.8,-.31,-.02],[258,62.8,-.54,.18],[246.4,61.3,-.4,-.04],[252.7,59.7,-.36,.18],[190.9,63.9,.36,-.4],[195.6,63.4,-.18,-.31],[182.5,62.3,.45,-.45],[177.3,60.2,.36,-.22],[192.5,59.2,.45,-.45],[198.2,58.6,.36,-.45],[185.1,55,.58,-.2],[195.1,52.9,.4,-.15],[179.9,52.6,.54,-.11],[172.5,54.4,.31,0],[162.6,54.9,.36,-.12],
  [189.8,50.2,.4,-.31],[160,49.7,.71,-.12],[167.3,49.7,.76,-.31],[175.2,49.7,.58,-.36],[179.9,45,.4,-.25],[165.2,45,.49,-.31],[160,42.4,.36,-.31],[167.3,39.2,.4,-.16],[175.2,40,.4,-.13],[182.5,39.2,.45,-.18],
  [202.4,52.6,.94,0],[214,52.6,.54,.07],[207.7,47.1,.54,.27],[199.3,45.5,.63,.4],[195.1,45.2,.36,.03],[200.3,39.8,.45,.58],[195.1,37.1,.36,.31],[211.9,42.4,.54,.49],[215,47.6,.71,.58],[219.2,41.3,.45,.4],[223.4,47.6,.45,.13],[210.3,37.7,.13,.49],[217.6,37.7,.27,.13],[230.2,46.6,.27,-.09],[227.6,42.9,.36,-.27],[229.2,35.6,.22,-.58],[205,27.7,-.13,.36],[210.3,29.8,-.09,.31],[260.1,35,.36,-.12],
  [227.6,29.8,.18,-.31],[223.4,26.1,.49,-.4],[212.9,22.5,.31,.27],[217.1,25.1,.36,0],[230.2,19.9,.36,-.36],[223.4,19.9,.31,-.22],[233.9,28.2,.63,-.98],[245.4,17.6,.34,-.09],[247.5,12.5,.89,-.04],[258.5,12,.76,-.04],[234.9,7.3,.36,-.2],[240.2,5.4,.31,.03],[244.9,7.5,.27,.05],[252.7,7.5,.36,-.02],[261.1,7.3,.36,.09],[250.1,2.5,.31,.03],[256.9,2.9,.45,0],
  [185.1,13,-.63,-.04],[206.6,9.9,-.62,0],[168.9,9.6,-.54,-.11],[177.8,9.9,-.67,-.06],[165.2,7.3,-.4,-.04],[199.8,7.3,-1.12,.04],[185.6,7.8,-.98,0],[180.4,5,-.76,0],[169.9,4.6,-.62,-.04],[206.1,5.2,-.67,.13],[211.9,4.6,-.45,-.06],[218.1,12.5,-.58,-.45],[223.4,9.9,-.67,-.62],[229.7,15.7,-.54,-.45],[196.1,2.6,-.54,.04],[188.8,2.6,-.58,0],[206.1,1.5,-.31,.13],[215,-4.8,-.45,.45],[218.1,-.6,-.58,.22],[185.1,-.1,-.76,.09],[169.9,.5,-.85,-.06],[168.4,-2.2,-.27,-.09],[202.4,-2.7,-.36,.18],[208.7,-6.9,-.58,.31],[194,-2.7,-.31,.13],[199.8,-5.3,-.31,.11],[181.5,-5.3,-.54,-.02],[166.8,-6.4,-.4,-.02],[176.2,-7.9,-.27,-.15],[222.9,-5.3,-.27,.22],[227.6,-1.1,-.27,.09],[231.2,-.1,-.31,.13],[219.2,-10,-.36,.22],[225.5,-9.5,-.18,.13],[233.9,-10,-.18,.13],[222.3,5.7,-.27,-.22]
];
const fLabels = [['0.1',179.4,21.4,0],['0.3',191.4,14.6,0],['0.5',202.1,10.9,0],['0.3',226,12.5,0],['0.1',215.5,16.2,0],['-0.1',223.4,19,0],['0.1',232.3,10.9,-50],['0.1',246.4,-7.9,0],['0.3',174.1,-5.5,0],['0.1',223.4,52.9,-60],['0.1',241.2,30.3,50],['-0.1',190.9,35.6,0],['-0.1',197.2,25.6,0],['-0.1',210.8,28.2,0],['0.1',256.9,2.8,0],['0',261.1,12,30]];

// one entry per panel, the frame of each map is at left/top in the page
const panels = [
  { left: 72,  top: 33,  name: '(a) SSTA/UV/WSPD', season: 'OND(-1)J(0)-P1', w1: aW1, w2: aW2, w3: [],  c1: aC1, c2: aC2, c3: [],  red: aRed, redLoop: aRedLoop, blue: aBlue, blueLoop: aBlueLoop, dots: aDots, wind: aWind, labels: aLabels },
  { left: 507, top: 33,  name: '(b) SSTA/UV/WSPD', season: 'FMAM(0)-P1',     w1: bW1, w2: [],  w3: [],  c1: bC1, c2: [],  c3: [],  red: bRed, redLoop: bRedLoop, blue: bBlue, blueLoop: bBlueLoop, dots: bDots, wind: bWind, labels: bLabels },
  { left: 942, top: 33,  name: '(c) SSTA/UV/WSPD', season: 'JJAS(0)-P1',     w1: cW1, w2: cW2, w3: [],  c1: cC1, c2: cC2, c3: [],  red: cRed, redLoop: cRedLoop, blue: cBlue, blueLoop: cBlueLoop, dots: cDots, wind: cWind, labels: cLabels },
  { left: 72,  top: 366, name: '(d) SSTA/UV/WSPD', season: 'OND(-1)J(0)-P2', w1: dW1, w2: dW2, w3: [],  c1: dC1, c2: dC2, c3: [],  red: dRed, redLoop: dRedLoop, blue: dBlue, blueLoop: dBlueLoop, dots: dDots, wind: dWind, labels: dLabels },
  { left: 507, top: 366, name: '(e) SSTA/UV/WSPD', season: 'FMAM(0)-P2',     w1: eW1, w2: eW2, w3: eW3, c1: eC1, c2: eC2, c3: eC3, red: eRed, redLoop: eRedLoop, blue: eBlue, blueLoop: eBlueLoop, dots: eDots, wind: eWind, labels: eLabels },
  { left: 942, top: 366, name: '(f) SSTA/UV/WSPD', season: 'JJAS(0)-P2',     w1: fW1, w2: fW2, w3: fW3, c1: fC1, c2: fC2, c3: fC3, red: fRed, redLoop: fRedLoop, blue: fBlue, blueLoop: fBlueLoop, dots: fDots, wind: fWind, labels: fLabels }
];

const FONT = '"Liberation Sans", Arial, sans-serif';
const VEC = 11.8;      // degrees of map per unit of wind
const KEY = 0.8;       // reference vector

function pairs(flat) {
  const out = [];
  for (let i = 0; i < flat.length; i += 2) out.push({ x: flat[i], y: flat[i + 1] });
  return out;
}

function loop(flat) {
  const pts = pairs(flat);
  pts.push(pts[0]);
  return pts;
}

function base(data, order) {
  return { data, order, showLine: true, pointRadius: 0, borderWidth: 0, tension: 0 };
}

function blobs(list, color, order) {
  return list.map(p => ({ ...base(loop(p), order), backgroundColor: color, fill: 'shape', tension: 0.35 }));
}

function lines(pts, color, width, dash, order) {
  return { ...base(pts, order), borderColor: color, borderWidth: width, borderDash: dash, tension: 0.3 };
}

function windSets(wind) {
  const shafts = [];
  const tips = [];
  const angles = [];
  wind.forEach(([lon, lat, u, v]) => {
    const tip = { x: lon + u * VEC, y: lat + v * VEC };
    shafts.push({ x: lon, y: lat }, tip, { x: NaN, y: NaN });
    tips.push(tip);
    angles.push(Math.atan2(u, v) * 180 / Math.PI);
  });
  return [
    { ...base(shafts, 2), borderColor: '#000', borderWidth: 1.7 },
    { data: tips, order: 1, showLine: false, pointStyle: 'triangle', pointRadius: 4.2, pointRotation: angles, pointBackgroundColor: '#000', pointBorderWidth: 0 }
  ];
}

function buildSets(p) {
  const sets = [];
  sets.push(...blobs(p.w1, '#f68f72', 12), ...blobs(p.w2, '#f4704f', 11), ...blobs(p.w3, '#f3493b', 10));
  sets.push(...blobs(p.c1, '#6dbfd6', 12), ...blobs(p.c2, '#4f9ccb', 11), ...blobs(p.c3, '#408fc7', 10));
  const dots = [];
  p.dots.forEach(([lat, ...lons]) => lons.forEach(lon => dots.push({ x: lon, y: lat })));
  sets.push({ data: dots, order: 8, showLine: false, pointRadius: 2.3, pointBackgroundColor: '#fff', pointBorderWidth: 0 });
  coastLines.forEach(c => sets.push({ ...lines(pairs(c), '#000', 1, [], 7), tension: 0 }));
  p.red.forEach(c => sets.push(lines(pairs(c), '#ee3a2d', 1.3, [], 6)));
  p.redLoop.forEach(c => sets.push(lines(loop(c), '#ee3a2d', 1.3, [], 6)));
  p.blue.forEach(c => sets.push(lines(pairs(c), '#3d3a9b', 1.2, [7, 3], 5)));
  p.blueLoop.forEach(c => sets.push(lines(loop(c), '#3d3a9b', 1.2, [7, 3], 5)));
  sets.push(...windSets(p.wind));
  return sets;
}

// titles, contour labels, frame and the reference vector box
const decor = {
  id: 'decor',
  afterDatasetsDraw(chart, args, opts) {
    const { ctx, chartArea: a, scales } = chart;
    const p = opts.panel;
    ctx.save();
    ctx.fillStyle = '#000';
    ctx.font = '15.5px ' + FONT;
    ctx.textAlign = 'center';
    ctx.textBaseline = 'middle';
    p.labels.forEach(([text, lon, lat, angle]) => {
      ctx.save();
      ctx.translate(scales.x.getPixelForValue(lon), scales.y.getPixelForValue(lat));
      ctx.rotate(angle * Math.PI / 180);
      ctx.fillText(text, 0, 0);
      ctx.restore();
    });

    // reference vector
    const w = 36, h = 38;
    const x0 = a.right - w;
    ctx.fillStyle = '#fff';
    ctx.fillRect(x0, a.top, w, h);
    ctx.strokeStyle = '#000';
    ctx.lineWidth = 1;
    ctx.strokeRect(x0, a.top, w, h);
    ctx.fillStyle = '#000';
    ctx.font = '13px ' + FONT;
    ctx.fillText(String(KEY), x0 + 18, a.top + 10);
    const len = scales.x.getPixelForValue(160 + KEY * VEC) - scales.x.getPixelForValue(160);
    const ay = a.top + 25;
    ctx.lineWidth = 1.5;
    ctx.beginPath();
    ctx.moveTo(x0 + 3, ay);
    ctx.lineTo(x0 + 3 + len - 4, ay);
    ctx.stroke();
    ctx.beginPath();
    ctx.moveTo(x0 + 3 + len, ay);
    ctx.lineTo(x0 + 3 + len - 8, ay - 3.5);
    ctx.lineTo(x0 + 3 + len - 8, ay + 3.5);
    ctx.closePath();
    ctx.fill();

    // frame
    ctx.lineWidth = 2;
    ctx.strokeRect(a.left, a.top, a.right - a.left, a.bottom - a.top);

    // titles
    ctx.font = '20.3px ' + FONT;
    ctx.textBaseline = 'alphabetic';
    ctx.textAlign = 'left';
    ctx.fillText(p.name, a.left, a.top - 5);
    ctx.textAlign = 'right';
    ctx.fillText(p.season, a.right + 1, a.top - 5);
    ctx.restore();
  }
};

function addCanvas(left, top, width, height) {
  const div = document.createElement('div');
  div.className = 'box';
  div.style.cssText = `left:${left}px;top:${top}px;width:${width}px;height:${height}px`;
  const c = document.createElement('canvas');
  c.width = width;
  c.height = height;
  c.style.cssText = `display:block;width:${width}px;height:${height}px`;
  div.appendChild(c);
  document.body.appendChild(div);
  return c;
}

panels.forEach(p => {
  const canvas = addCanvas(p.left - 55, p.top - 30, 447, 325);
  new Chart(canvas, {
    type: 'scatter',
    data: { datasets: buildSets(p) },
    plugins: [decor],
    options: {
      responsive: false,
      animation: false,
      events: [],
      layout: { autoPadding: false, padding: { top: 30, right: 42, left: 0, bottom: 0 } },
      plugins: { legend: { display: false }, tooltip: { enabled: false }, decor: { panel: p } },
      scales: {
        x: {
          type: 'linear', min: 160, max: 270,
          afterBuildTicks(s) { s.ticks = xTicks.map(v => ({ value: v })); },
          afterFit(s) { s.height = 40; },
          grid: { drawOnChartArea: false, tickLength: 8, tickWidth: 1.5, tickColor: '#000' },
          border: { color: '#000', width: 2 },
          ticks: {
            autoSkip: false, maxRotation: 0, padding: 12, color: '#000',
            font: { family: FONT, size: 18 },
            callback: v => xTickLabels[xTicks.indexOf(v)]
          }
        },
        y: {
          type: 'linear', min: -10, max: 70,
          afterBuildTicks(s) { s.ticks = yTicks.map(v => ({ value: v })); },
          afterFit(s) { s.width = 55; },
          grid: { drawOnChartArea: false, tickLength: 8, tickWidth: 1.5, tickColor: '#000' },
          border: { color: '#000', width: 2 },
          ticks: {
            autoSkip: false, padding: 5, color: '#000', labelOffset: 1.5,
            font: { family: FONT, size: 18 },
            callback: v => yTickLabels[yTicks.indexOf(v)]
          }
        }
      }
    }
  });
});

// colour bar
const barCanvas = addCanvas(1310, 160, 85, 332);
new Chart(barCanvas, {
  type: 'bar',
  data: {
    labels: ['SSTA'],
    datasets: barColors.map((col, i) => ({
      data: [[barEdges[i], barEdges[i + 1]]],
      backgroundColor: col,
      borderColor: '#000',
      borderWidth: 1.5,
      borderSkipped: false,
      barPercentage: 1,
      categoryPercentage: 1
    }))
  },
  options: {
    responsive: false,
    animation: false,
    events: [],
    layout: { autoPadding: false, padding: { top: 29, bottom: 29, left: 7, right: 0 } },
    plugins: { legend: { display: false }, tooltip: { enabled: false } },
    scales: {
      x: { stacked: true, display: false },
      y: {
        position: 'right', min: -0.4, max: 0.4,
        afterBuildTicks(s) { s.ticks = barTicks.map(v => ({ value: v })); },
        afterFit(s) { s.width = 61; },
        grid: { display: false, drawTicks: false },
        border: { display: false },
        ticks: {
          autoSkip: false, padding: 5, color: '#000', crossAlign: 'center', labelOffset: 2.5,
          font: { family: FONT, size: 25 },
          callback: v => barTickLabels[barTicks.findIndex(t => Math.abs(t - v) < 1e-6)]
        }
      }
    }
  }
});
</script>
</body>
</html>
